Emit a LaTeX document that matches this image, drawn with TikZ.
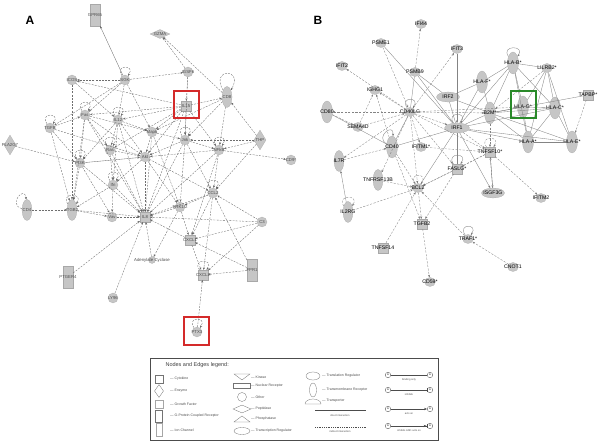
\documentclass[tikz,border=0pt]{standalone}
\usepackage{fontspec}
\setmainfont{Liberation Sans}
\usetikzlibrary{arrows.meta,shapes.geometric}
\definecolor{nodegray}{HTML}{C6C6C6}
\definecolor{edgegray}{HTML}{6E6E6E}
\definecolor{boxred}{HTML}{D42A2A}
\definecolor{boxgreen}{HTML}{2A8A2A}
\newcommand\fsA{\fontsize{4.3}{5}\selectfont}
\newcommand\fsB{\fontsize{5.2}{6}\selectfont}
\newcommand\fsL{\fontsize{3.5}{4}\selectfont}
\tikzset{
	gene/.style={fill=nodegray, draw=nodegray!85!black, line width=0.2pt, inner sep=0pt},
	cyto/.style={gene, rectangle, minimum width=10pt, minimum height=10pt},
	gpcr/.style={gene, rectangle, minimum width=10pt, minimum height=22pt},
	other/.style={gene, circle, minimum size=10pt},
	enz/.style={gene, diamond, minimum width=12pt, minimum height=20pt},
	pept/.style={gene, diamond, minimum width=20pt, minimum height=9pt},
	tmr/.style={gene, ellipse, minimum width=10pt, minimum height=21pt},
	treg/.style={gene, ellipse, minimum width=23pt, minimum height=10pt},
	small/.style={gene, ellipse, minimum width=11pt, minimum height=9pt},
	lblA/.style={font=\fsA, text=black!70, inner sep=0pt},
	lblB/.style={font=\fsB, text=black, inner sep=0pt},
	lA/.style={label={[lblA]center:#1}},
	lB/.style={label={[lblB]center:#1}},
	tip/.style={-{Stealth[length=2.6pt,width=2pt]}},
	aedge/.style={draw=edgegray, line width=0.35pt, dash pattern=on 2pt off 1.2pt, tip},
	asolid/.style={draw=edgegray, line width=0.35pt, tip},
	bdir/.style={draw=edgegray!85, line width=0.35pt},
	bdirA/.style={bdir, tip},
	bind/.style={draw=edgegray!85, line width=0.35pt, dash pattern=on 2.2pt off 1.4pt, tip},
	selfloop/.style={out=125, in=55, min distance=14pt, looseness=1.5},
	hilite/.style={line width=1.2pt},
	plabel/.style={font=\bfseries\fontsize{12}{12}\selectfont},
	lgshape/.style={draw=black!55, fill=white, line width=0.3pt, inner sep=0pt},
	lgtxt/.style={font=\fsL, text=black!70, anchor=west, inner sep=0pt},
	lgsub/.style={font=\fontsize{2.6}{3}\selectfont, text=black!70, inner sep=0pt},
	ring/.style={draw=black!60, circle, minimum size=5.5pt, inner sep=0pt, font=\fontsize{2.6}{3}\selectfont},
}

\begin{document}
\begin{tikzpicture}[x=1pt,y=1pt]
	\useasboundingbox (0,0) rectangle (600,444);
	% ---------------- panel A
	\node[plabel] (titleA) at (30,424) {A};
	\node[gpcr,lA=GPR65] (gpr) at (95,429) {};
	\node[pept,lA=GZMA] (gzma) at (160,410) {};
	\node[other,lA=ICOS] (icos) at (72,364) {};
	\node[other,lA=SGK] (sgk) at (125,364) {};
	\node[other,lA=IGSF6] (igsf) at (188,372) {};
	\node[cyto,lA=IL15] (il15) at (186,338) {};
	\node[tmr,lA=CD8] (cd8) at (227,347) {};
	\node[other,lA=Fas] (fas) at (85,329) {};
	\node[other,lA=IL12] (il12) at (118,324) {};
	\node[other,lA=TGFB] (tgfb) at (50,316) {};
	\node[enz,lA=PLA2G7] (pla) at (10,299) {};
	\node[other,lA=Mapk] (mapk) at (152,312) {};
	\node[other,lA=Jnk] (jnk) at (185,304) {};
	\node[enz,lA=THP] (thp) at (260,304) {};
	\node[other,lA=NFkB] (nfkb) at (219,294) {};
	\node[other,lA=CD9*] (cd9) at (291,284) {};
	\node[other,lA=Ras] (ras) at (110,294) {};
	\node[other,lA=PI3K] (pi3k) at (80,281) {};
	\node[other,lA=Akt] (akt) at (145,287) {};
	\node[other,lA=Ifn] (ifn) at (113,259) {};
	\node[other,lA=CCL2] (ccl2) at (213,251) {};
	\node[other,lA=ERK1/2] (erk) at (180,237) {};
	\node[tmr,lA=CD4] (cd4) at (27,234) {};
	\node[tmr,lA=ITGB2] (itgb) at (72,234) {};
	\node[other,lA=Vav] (vav) at (112,227) {};
	\node[cyto,lA=IL8] (il8) at (145,227) {};
	\node[other,lA=C3] (c3) at (262,222) {};
	\node[cyto,lA=CXCL1] (cxcl1) at (190,204) {};
	\node[other,minimum size=7pt,lA=Adenylate Cyclase] (adcy) at (152,184) {};
	\node[gpcr,lA=PTGER4] (ptger4) at (68,167) {};
	\node[cyto,lA=CXCL2] (cxcl2) at (203,169) {};
	\node[gpcr,lA=FPR1] (fpr1) at (252,174) {};
	\node[other,lA=LY96] (ly96) at (113,146) {};
	\node[other,lA=PTX3] (ptx3) at (197,112) {};
	\draw[asolid] (sgk) -- (gpr);
	\draw[asolid] (pi3k) -- (akt);
	\path[aedge]
		(il15) edge (cd8) edge (icos) edge (il12) edge (fas) edge (mapk) edge (jnk) edge (nfkb) edge (akt) edge (il8) edge (ras)
		(sgk) edge (icos) edge (igsf) edge (fas) edge (il12) edge (tgfb) edge (mapk)
		(igsf) edge (gzma) edge (il15) edge (jnk)
		(cd8) edge (gzma) edge (jnk) edge (nfkb) edge (mapk)
		(thp) edge (cd8) edge (nfkb) edge (jnk) edge (ccl2)
		(nfkb) edge (cd9) edge (il8) edge (ccl2) edge (akt) edge (cxcl1)
		(icos) edge (itgb) edge (il12)
		(tgfb) edge (fas) edge (pi3k) edge (itgb) edge (akt)
		(fas) edge (pi3k) edge (ras) edge (akt) edge (itgb) edge (il8) edge (mapk)
		(pla) edge (pi3k)
		(il12) edge (mapk) edge (akt) edge (ras) edge (il8) edge (ifn) edge (pi3k)
		(mapk) edge (akt) edge (il8) edge (jnk) edge (erk)
		(jnk) edge (akt) edge (nfkb) edge (il8) edge (ccl2) edge (erk)
		(akt) edge (il8) edge (ccl2) edge (erk) edge (ifn)
		(ras) edge (akt) edge (ifn) edge (il8)
		(pi3k) edge (itgb) edge (il8) edge (vav)
		(ifn) edge (il8) edge (vav) edge (itgb)
		(cd4) edge (itgb)
		(itgb) edge (il8) edge (vav)
		(vav) edge (il8)
		(ccl2) edge (il8) edge (cxcl1) edge (cxcl2) edge (erk)
		(c3) edge (ccl2) edge (cxcl1) edge (il8) edge (cxcl2)
		(fpr1) edge (cxcl2) edge (ccl2) edge (cxcl1)
		(cxcl1) edge (il8) edge (cxcl2)
		(erk) edge (il8) edge (cxcl1) edge (adcy)
		(adcy) edge (il8)
		(ptger4) edge (il8)
		(ly96) edge (il8)
		(ptx3) edge (cxcl2);
	% loops
	\path[aedge] (sgk) edge[selfloop] (sgk) (fas) edge[selfloop] (fas)
		(il12) edge[selfloop] (il12) (tgfb) edge[selfloop] (tgfb)
		(jnk) edge[selfloop] (jnk) (nfkb) edge[selfloop] (nfkb)
		(ras) edge[selfloop] (ras) (pi3k) edge[selfloop] (pi3k)
		(ifn) edge[selfloop] (ifn) (ccl2) edge[selfloop] (ccl2)
		(itgb) edge[selfloop] (itgb) (cxcl2) edge[selfloop] (cxcl2)
		(ptx3) edge[selfloop] (ptx3)
		(cd4) edge[out=165, in=95, min distance=15pt] (cd4)
		(cd8) edge[out=120, in=60, min distance=26pt] (cd8);
	\draw[boxred, hilite] (174,353) rectangle (199,326);
	\draw[boxred, hilite] (184,127) rectangle (209,99);
	% ---------------- panel B
	\node[plabel] (titleB) at (318,424) {B};
	\node[small,lB=IFI44] (ifi44) at (421,420) {};
	\node[small,lB=PSME1] (psme1) at (381,401) {};
	\node[small,lB=IFIT3] (ifit3) at (457,395) {};
	\node[small,lB=IFIT2] (ifit2) at (342,378) {};
	\node[small,lB=PSMB9] (psmb9) at (415,372) {};
	\node[tmr,minimum width=11pt,minimum height=22pt,lB=HLA-B*] (hlab) at (513,381) {};
	\node[small,lB=LILRB2*] (lilrb2) at (547,376) {};
	\node[tmr,minimum width=11pt,minimum height=22pt,lB=HLA-F*] (hlaf) at (482,362) {};
	\node[small,lB=IGHG1] (ighg1) at (375,354) {};
	\node[treg,lB=IRF2] (irf2) at (448,347) {};
	\node[cyto,lB=TAPBP*] (tapbp) at (588,349) {};
	\node[tmr,minimum width=11pt,minimum height=22pt,lB=CD80] (cd80) at (327,332) {};
	\node[small,lB=CD40LG] (cd40lg) at (410,332) {};
	\node[tmr,minimum width=11pt,minimum height=22pt,lB=B2M*] (b2m) at (490,331) {};
	\node[tmr,minimum width=11pt,minimum height=22pt,lB=HLA-G*] (hlag) at (523,337) {};
	\node[tmr,minimum width=11pt,minimum height=22pt,lB=HLA-C*] (hlac) at (555,336) {};
	\node[small,lB=SEMA4D] (sema4d) at (358,317) {};
	\node[treg,minimum width=25pt,lB=IRF1] (irf1) at (457,316) {};
	\node[tmr,minimum width=11pt,minimum height=22pt,lB=CD40] (cd40) at (392,297) {};
	\node[small,lB=IFITM1*] (ifitm1) at (421,297) {};
	\node[tmr,minimum width=11pt,minimum height=22pt,lB=HLA-A*] (hlaa) at (528,302) {};
	\node[tmr,minimum width=11pt,minimum height=22pt,lB=HLA-E*] (hlae) at (572,302) {};
	\node[cyto,lB=TNFSF10*] (tnfsf10) at (490,292) {};
	\node[tmr,lB=IL7R] (il7r) at (339,283) {};
	\node[tmr,lB=TNFRSF13B] (tnfrsf13b) at (378,264) {};
	\node[small,lB=BCL2] (bcl2) at (418,256) {};
	\node[cyto,lB=FASLG*] (faslg) at (457,275) {};
	\node[treg,lB=ISGF3G] (isgf3g) at (493,251) {};
	\node[small,lB=IFITM2] (ifitm2) at (541,246) {};
	\node[tmr,lB=IL2RG] (il2rg) at (348,232) {};
	\node[cyto,lB=TGFB2] (tgfb2) at (422,220) {};
	\node[small,lB=TRAF1*] (traf) at (468,205) {};
	\node[cyto,lB=TNFSF14] (tnfsf14) at (383,196) {};
	\node[small,lB=CNOT1] (cnot1) at (513,177) {};
	\node[small,lB=CD59*] (cd59) at (430,162) {};
	\path[bdir]
		(psmb9) edge (cd40lg) edge (irf2) edge (irf1)
		(psme1) edge (irf1)
		(irf2) edge (irf1) edge (hlaf) edge (b2m)
		(irf1) edge (b2m) edge (hlaa) edge (hlae) edge (hlac) edge (hlab) edge (faslg) edge (bcl2) edge (hlaf)
		(cd40) edge (cd40lg) edge (irf1)
		(cd80) edge (cd40)
		(hlaf) edge (hlab) edge (b2m)
		(hlab) edge (lilrb2) edge (b2m) edge (hlac) edge (hlaa) edge (hlag)
		(lilrb2) edge (hlag) edge (hlac) edge (hlaa) edge (hlae)
		(tapbp) edge (b2m)
		(b2m) edge (hlag) edge (hlac) edge (hlaa) edge (hlae)
		(hlag) edge (hlac) edge (hlaa)
		(hlac) edge (hlaa) edge (hlae)
		(hlaa) edge (hlae);
	\path[bdirA] (ifit3) edge (irf1) (irf1) edge (isgf3g) (tnfsf10) edge (isgf3g)
		(isgf3g) edge (tnfsf10) (il2rg) edge (il7r);
	\path[bind]
		(psmb9) edge (ifi44) (psme1) edge (cd40lg) (cd40lg) edge (ifit3) (cd40lg) edge (ifit2)
		(cd40lg) edge (ighg1) (cd40lg) edge (cd80) (sema4d) edge (ighg1) (sema4d) edge (cd40lg)
		(cd40) edge (ighg1) (cd80) edge (sema4d)
		(cd40lg) edge (irf1) edge (b2m) edge (ifitm1) edge (bcl2) edge (faslg) edge (tnfsf10) edge (tnfrsf13b) edge (hlag) edge (il7r)
		(lilrb2) edge (b2m) (tapbp) edge (hlae)
		(b2m) edge (tnfsf10) (irf1) edge (tnfsf10) (ifitm1) edge (tnfsf10)
		(tnfsf10) edge (faslg) edge (ifitm2) edge (bcl2)
		(faslg) edge (bcl2) edge (tgfb2)
		(tnfrsf13b) edge (bcl2) (il2rg) edge (bcl2) (tnfsf14) edge (bcl2) (traf) edge (bcl2) (cd40) edge (bcl2)
		(bcl2) edge (tgfb2) (cd40) edge (tgfb2) (il7r) edge (cd40)
		(tgfb2) edge (cd59) (cnot1) edge (traf);
	\path[bdirA] (hlab) edge[selfloop] (hlab) (irf1) edge[selfloop] (irf1)
		(cd40lg) edge[selfloop] (cd40lg) (faslg) edge[selfloop] (faslg)
		(traf) edge[selfloop] (traf) (cd40) edge[out=150, in=85, min distance=14pt] (cd40);
	\path[bind] (tnfsf10) edge[selfloop] (tnfsf10) (bcl2) edge[selfloop] (bcl2)
		(il2rg) edge[selfloop] (il2rg);
	\draw[boxgreen, hilite] (511,353) rectangle (536,326);
	% ---------------- legend
	\draw[black!70, line width=0.5pt] (150,86) rectangle (438,4);
	\node[font=\fontsize{5.5}{6}\selectfont, anchor=west, text=black!75] (lgtitle) at (162,79) {Nodes and Edges legend:};
	\node[lgshape, rectangle, minimum size=8pt] (lgcyto) at (159,65) {};
	\node[lgshape, diamond, minimum width=9pt, minimum height=13pt] (lgenz) at (159,53) {};
	\node[lgshape, rectangle, minimum size=8pt, draw=black!35] (lggrowth) at (159,40) {};
	\node[lgshape, rectangle, minimum width=7pt, minimum height=12pt] (lggpcr) at (159,28) {};
	\node[lgshape, rectangle, minimum width=6pt, minimum height=13pt, draw=black!35] (lgion) at (159,14) {};
	\node[lgtxt] (tcyto) at (170,65) {— Cytokine};
	\node[lgtxt] (tenz) at (170,53) {— Enzyme};
	\node[lgtxt] (tgrowth) at (170,40) {— Growth Factor};
	\node[lgtxt] (tgpcr) at (170,28) {— G-Protein Coupled Receptor};
	\node[lgtxt] (tion) at (170,14) {— Ion Channel};
	\draw[lgshape] (234,70) -- (250,70) -- (242,64) -- cycle;
	\node[lgshape, rectangle, minimum width=17pt, minimum height=5pt] (lgnuc) at (242,58) {};
	\node[lgshape, circle, minimum size=9pt] (lgother) at (242,47) {};
	\node[lgshape, diamond, minimum width=18pt, minimum height=8pt] (lgpept) at (242,35) {};
	\draw[lgshape] (234,22) -- (250,22) -- (242,28) -- cycle;
	\node[lgshape, ellipse, minimum width=16pt, minimum height=7pt] (lgtreg) at (242,13) {};
	\node[lgtxt] (tkin) at (251,67) {— Kinase};
	\node[lgtxt] (tnuc) at (251,58) {— Nuclear Receptor};
	\node[lgtxt] (tother) at (251,47) {— Other};
	\node[lgtxt] (tpept) at (251,35) {— Peptidase};
	\node[lgtxt] (tphos) at (251,25) {— Phosphatase};
	\node[lgtxt] (ttreg) at (251,13) {— Transcription Regulator};
	\node[lgshape, ellipse, minimum width=14pt, minimum height=8pt] (lgtrans) at (313,68) {};
	\node[lgshape, ellipse, minimum width=7pt, minimum height=14pt] (lgtmr) at (313,54) {};
	\draw[lgshape] (305,40) -- (321,40) arc[start angle=0, end angle=180, x radius=8, y radius=5] -- cycle;
	\node[lgtxt] (ttrans) at (322,68) {— Translation Regulator};
	\node[lgtxt] (ttmr) at (322,54) {— Transmembrane Receptor};
	\node[lgtxt] (ttport) at (322,43) {— Transporter};
	\coordinate (dirL) at (315,34);
	\coordinate (dirR) at (366,34);
	\draw[black!70, line width=0.5pt] (dirL) -- (dirR);
	\node[lgsub] (tdir) at (340,28) {direct interaction};
	\coordinate (indL) at (315,17);
	\coordinate (indR) at (366,17);
	\draw[black!70, line width=0.5pt, dash pattern=on 1pt off 0.8pt] (indL) -- (indR);
	\node[lgsub] (tind) at (340,12) {indirect interaction};
	\node[ring] (bo1) at (388,69) {A};
	\node[ring] (bo2) at (430,69) {A};
	\node[ring] (in1) at (388,54) {A};
	\node[ring] (in2) at (430,54) {A};
	\node[ring] (ac1) at (388,35) {A};
	\node[ring] (ac2) at (430,35) {A};
	\node[ring] (ia1) at (388,18) {A};
	\node[ring] (ia2) at (430,18) {A};
	\draw[black!70, line width=0.45pt] (bo1) -- (bo2);
	\draw[black!70, line width=0.45pt, -{Bar[width=4pt]}] (in1) -- (in2);
	\draw[black!70, line width=0.45pt, -{Stealth[length=3pt,width=2.4pt]}] (ac1) -- (ac2);
	\draw[black!70, line width=0.45pt, -{Stealth[length=3pt,width=2.4pt] Bar[width=4pt]}] (ia1) -- (ia2);
	\node[lgsub] (tbo) at (409,64) {binding only};
	\node[lgsub] (tin) at (409,49) {inhibits};
	\node[lgsub] (tac) at (409,30) {acts on};
	\node[lgsub] (tia) at (409,13) {inhibits AND acts on};
\end{tikzpicture}
\end{document}
